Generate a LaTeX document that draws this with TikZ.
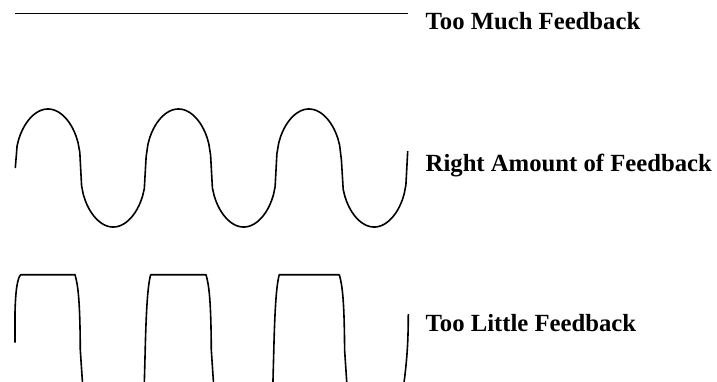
\documentclass[tikz,border=0pt]{standalone}
\usepackage{fontspec}
\setmainfont{Liberation Serif}
\usepackage{tikz}
\tikzset{trace/.style={draw=black,line width=1.6pt,line join=round},
 note/.style={anchor=base west,inner sep=0pt,text=black,
 font=\fontsize{24.7}{28}\selectfont\bfseries}}
% one clipped pulse of the square wave: left corner, right corner
\newcommand{\squarepulse}[2]{%
 \draw[trace] (#1-6.7,395) -- (#1-5.5,350)
   .. controls (#1-4.5,310) and (#1-3,285) .. (#1,274.7)
   -- (#2,274.7)
   .. controls (#2+3,285) and (#2+5,300) .. (#2+5.3,350) -- (#2+8.3,395);}

\begin{document}
\begin{tikzpicture}[x=1pt,y=-1pt,
 declare function={ripple(\t)=sign(sin(\t))*pow(abs(sin(\t))+0.0001,0.4);}]
 \useasboundingbox (0,0) rectangle (717,381);
 % too much feedback: flat trace
 \coordinate (flatstart) at (15,13.5);
 \coordinate (flatend) at (408,13.5);
 \draw[trace] (flatstart) -- (flatend);
 \node[note] (muchlabel) at (425.5,29.5) {Too Much Feedback};
 % right amount: squarish sine
 \draw[trace] plot[domain=15.3:407.7,samples=220]
  (\x,{168-59*ripple((\x-15.3)/130.5*360)});
 \node[note] (rightlabel) at (425.5,171.7) {Right Amount of Feedback};
 % too little: square wave, cut at the bottom
 \begin{scope}
  \clip (0,0) rectangle (717,381);
  \draw[trace] (15,342.7) -- (15,313)
   .. controls (15.5,290) and (17.5,278) .. (20.7,274.7) -- (75,274.7)
   .. controls (78,285) and (80,300) .. (80.3,350) -- (83.3,395);
  \squarepulse{150.7}{206}
  \squarepulse{279.3}{339.3}
  \draw[trace] (403,390) .. controls (406.5,365) and (408.3,345) .. (408.3,314);
 \end{scope}
 \node[note] (littlelabel) at (425.5,331.7) {Too Little Feedback};
\end{tikzpicture}
\end{document}
